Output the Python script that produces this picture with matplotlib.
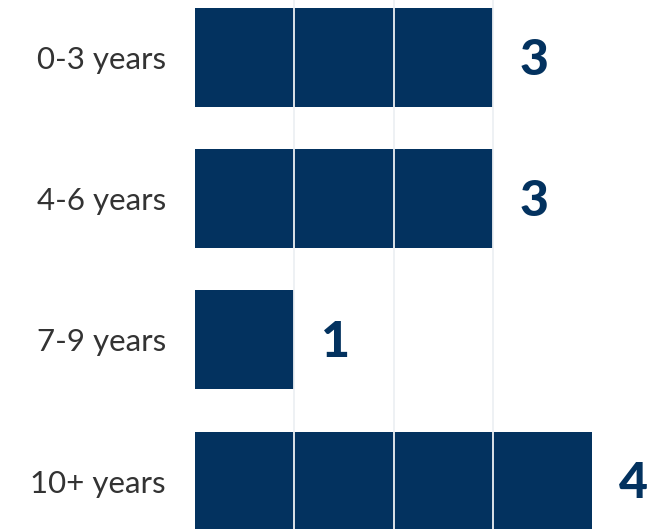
import matplotlib
matplotlib.use("Agg")
import matplotlib.pyplot as plt

categories = ["0-3 years", "4-6 years", "7-9 years", "10+ years"]
values = [3, 3, 1, 4]

navy = "#03325f"
fig = plt.figure(figsize=(6.5, 5.29), dpi=100)
ax = fig.add_axes([195/650, 0, 455/650, 1])
ypos = list(range(len(categories)))
ax.barh(ypos, values, height=0.70, color=navy, zorder=1)
ax.set_xlim(0, 455/99.3)
ax.set_ylim(3 + (529-481)/141.3, -57.5/141.3)
for gx in [1, 2, 3]:
    ax.axvline(gx, color="#edf0f3", lw=1.3, zorder=2)
ax.set_yticks(ypos)
ax.set_yticklabels(categories, fontsize=22.5, color="#333333", family=["Lato", "DejaVu Sans"])
ax.tick_params(axis="y", length=0, pad=21)
ax.set_xticks([])
for s in ax.spines.values():
    s.set_visible(False)
for y, v in zip(ypos, values):
    ax.text(v + 0.27, y + 0.02, str(v), va="center", ha="left", fontsize=36, fontweight="black",
            color=navy, family=["Lato", "DejaVu Sans"], zorder=3)
fig.savefig("out.png", dpi=100)
